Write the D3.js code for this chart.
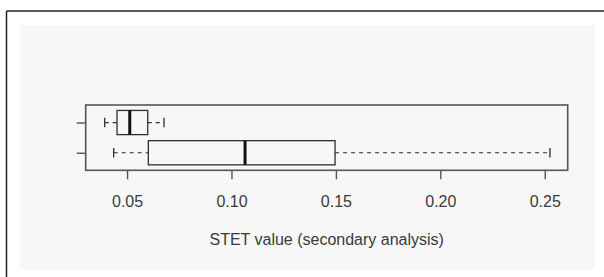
<!DOCTYPE html>
<html>
<head>
<meta charset="utf-8">
<script src="https://cdn.jsdelivr.net/npm/d3@7"></script>
<style>
  html, body { margin: 0; padding: 0; background: #fff; }
  svg { display: block; }
  text { font-family: "Liberation Sans", Arial, sans-serif; fill: #3a3a3a; }
</style>
</head>
<body>
<svg id="chart" width="604" height="277"></svg>
<script>
// Data (group 1 drawn at the bottom, group 2 at the top, as in R boxplot)
const categories   = ["Group 1", "Group 2"];
const whiskerLow   = [0.0436, 0.0393];
const q1Values     = [0.0602, 0.0452];
const medianValues = [0.1065, 0.0513];
const q3Values     = [0.1496, 0.0599];
const whiskerHigh  = [0.2525, 0.0677];
const xTickValues  = [0.05, 0.10, 0.15, 0.20, 0.25];
const xTitle = "STET value (secondary analysis)";

const svg = d3.select("#chart");

// outer frame and panel
svg.append("line").attr("x1", 6.5).attr("x2", 604).attr("y1", 11).attr("y2", 11)
  .attr("stroke", "#222").attr("stroke-width", 1.5);
svg.append("line").attr("x1", 6.5).attr("x2", 6.5).attr("y1", 11).attr("y2", 277)
  .attr("stroke", "#222").attr("stroke-width", 1.5);
svg.append("rect").attr("x", 20.5).attr("y", 25).attr("width", 574.5).attr("height", 245)
  .attr("fill", "#f7f7f7");

const plot = { left: 85.7, right: 567.7, top: 105, bottom: 170.3 };

const x = d3.scaleLinear().domain([0.0302, 0.2610]).range([plot.left, plot.right]);
const y = d3.scaleLinear().domain([0.42, 2.58]).range([plot.bottom, plot.top]);

const data = categories.map((c, i) => ({
  cat: c, pos: i + 1,
  lo: whiskerLow[i], q1: q1Values[i], med: medianValues[i], q3: q3Values[i], hi: whiskerHigh[i]
}));

const boxHalf = 0.4, capHalf = 0.16;
const stroke = "#2e2e2e";

const g = svg.append("g");
data.forEach(d => {
  // whiskers (dashed)
  g.append("line").attr("x1", x(d.lo)).attr("x2", x(d.q1)).attr("y1", y(d.pos)).attr("y2", y(d.pos))
    .attr("stroke", stroke).attr("stroke-width", 1.2).attr("stroke-dasharray", "4,4");
  g.append("line").attr("x1", x(d.q3)).attr("x2", x(d.hi)).attr("y1", y(d.pos)).attr("y2", y(d.pos))
    .attr("stroke", stroke).attr("stroke-width", 1.2).attr("stroke-dasharray", "4,4");
  // caps
  [d.lo, d.hi].forEach(v => {
    g.append("line").attr("x1", x(v)).attr("x2", x(v))
      .attr("y1", y(d.pos - capHalf)).attr("y2", y(d.pos + capHalf))
      .attr("stroke", stroke).attr("stroke-width", 1.3);
  });
  // box
  g.append("rect").attr("x", x(d.q1)).attr("y", y(d.pos + boxHalf))
    .attr("width", x(d.q3) - x(d.q1)).attr("height", y(d.pos - boxHalf) - y(d.pos + boxHalf))
    .attr("fill", "none").attr("stroke", stroke).attr("stroke-width", 1.3);
  // median
  g.append("line").attr("x1", x(d.med)).attr("x2", x(d.med))
    .attr("y1", y(d.pos + boxHalf)).attr("y2", y(d.pos - boxHalf))
    .attr("stroke", "#111").attr("stroke-width", 3);
});

// plot border
svg.append("rect").attr("x", plot.left).attr("y", plot.top)
  .attr("width", plot.right - plot.left).attr("height", plot.bottom - plot.top)
  .attr("fill", "none").attr("stroke", "#555").attr("stroke-width", 1.6);

// x axis
const xAxis = d3.axisBottom(x).tickValues(xTickValues).tickSize(9).tickPadding(16)
  .tickFormat(d3.format(".2f"));
const xa = svg.append("g").attr("transform", `translate(0,${plot.bottom})`).call(xAxis);
xa.select(".domain").remove();
xa.selectAll(".tick line").attr("stroke", "#555").attr("stroke-width", 1.4);
xa.selectAll(".tick text").attr("font-size", 16).attr("fill", "#3a3a3a")
  .attr("font-family", "'Liberation Sans', Arial, sans-serif");

// y axis (ticks only, no labels)
const yAxis = d3.axisLeft(y).tickValues(data.map(d => d.pos)).tickSize(9).tickFormat("");
const ya = svg.append("g").attr("transform", `translate(${plot.left},0)`).call(yAxis);
ya.select(".domain").remove();
ya.selectAll(".tick line").attr("stroke", "#555").attr("stroke-width", 1.4);

// title
svg.append("text").attr("x", (plot.left + plot.right) / 2).attr("y", 245)
  .attr("text-anchor", "middle").attr("font-size", 16).text(xTitle);
</script>
</body>
</html>
